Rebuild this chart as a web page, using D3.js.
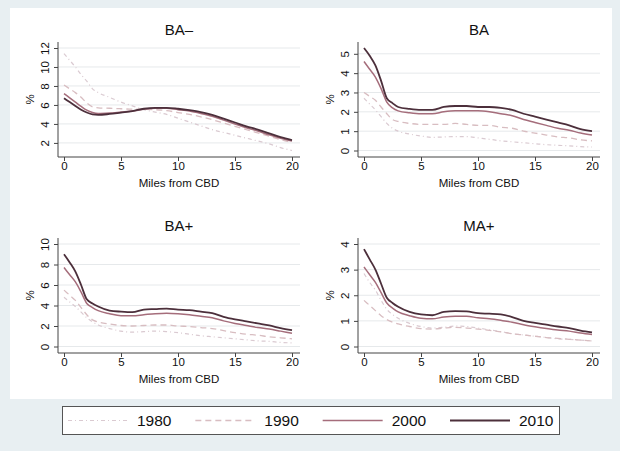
<!DOCTYPE html>
<meta charset="utf-8">
<style>
body{ margin:0; }
text{ font-family:"Liberation Sans",Arial,Helvetica,sans-serif; fill:#111; }
.tick line{ stroke:#444; }
.title{ font-size:15px; text-anchor:middle; }
.axlab{ font-size:11.5px; text-anchor:middle; }
.tick text{ font-size:11.5px; }
.legend text{ font-size:15.5px; }
</style>
<body>
<script src="https://cdnjs.cloudflare.com/ajax/libs/d3/7.8.5/d3.min.js"></script>
<script>

// miles from CBD, shared by every series
var distance = [0,0.5,1,1.5,2,2.5,3,4,5,6,7,8,9,10,11,12,13,14,15,16,17,18,19,20];
var years = ["1980","1990","2000","2010"];

// one array per year, order as in years
var baMinus = [
 [11.4,10.7,10.0,9.2,8.5,7.7,7.3,6.8,6.3,5.9,5.5,5.25,5.0,4.6,4.2,3.8,3.4,3.1,2.8,2.5,2.2,1.9,1.5,1.2],
 [8.1,7.7,7.3,6.8,6.2,5.8,5.7,5.65,5.6,5.55,5.55,5.5,5.4,5.2,5.0,4.75,4.45,4.1,3.75,3.4,3.05,2.7,2.35,2.05],
 [7.2,6.75,6.3,5.85,5.45,5.2,5.1,5.15,5.25,5.35,5.55,5.65,5.65,5.5,5.35,5.1,4.8,4.4,4.0,3.6,3.25,2.85,2.5,2.2],
 [6.7,6.3,5.9,5.5,5.2,5.0,4.95,5.05,5.2,5.35,5.6,5.7,5.7,5.6,5.45,5.25,4.95,4.55,4.15,3.75,3.4,3.0,2.6,2.3]
];
var ba = [
 [2.7,2.4,2.1,1.75,1.4,1.15,1.0,0.85,0.75,0.68,0.7,0.72,0.72,0.65,0.58,0.5,0.45,0.4,0.35,0.3,0.27,0.24,0.2,0.18],
 [3.0,2.8,2.6,2.25,1.9,1.6,1.5,1.4,1.35,1.35,1.35,1.4,1.35,1.3,1.3,1.2,1.15,1.0,0.9,0.8,0.7,0.65,0.55,0.5],
 [4.6,4.2,3.8,3.2,2.5,2.2,2.05,1.95,1.9,1.9,2.0,2.05,2.05,2.05,2.0,1.9,1.8,1.6,1.45,1.3,1.15,1.05,0.9,0.8],
 [5.3,4.9,4.4,3.6,2.7,2.45,2.25,2.15,2.1,2.1,2.25,2.3,2.3,2.25,2.25,2.2,2.1,1.9,1.75,1.6,1.45,1.3,1.1,1.0]
];
var baPlus = [
 [4.8,4.35,3.9,3.35,2.8,2.4,2.1,1.75,1.5,1.4,1.45,1.5,1.45,1.35,1.2,1.05,0.95,0.85,0.75,0.65,0.55,0.5,0.4,0.35],
 [5.5,5.0,4.5,3.8,3.1,2.6,2.4,2.2,2.05,2.0,2.05,2.1,2.1,2.0,1.95,1.85,1.75,1.55,1.35,1.2,1.1,0.95,0.85,0.75],
 [7.7,7.0,6.3,5.3,4.2,3.8,3.5,3.2,3.0,3.0,3.1,3.2,3.25,3.2,3.1,2.95,2.8,2.5,2.25,2.05,1.85,1.7,1.5,1.3],
 [9.0,8.2,7.3,6.0,4.6,4.2,3.9,3.5,3.4,3.35,3.6,3.65,3.7,3.6,3.55,3.4,3.25,2.9,2.65,2.45,2.25,2.05,1.8,1.6]
];
var maPlus = [
 [2.85,2.5,2.2,1.8,1.45,1.25,1.1,0.9,0.78,0.72,0.75,0.8,0.78,0.72,0.65,0.58,0.5,0.45,0.4,0.35,0.3,0.28,0.25,0.22],
 [1.8,1.6,1.4,1.2,1.05,0.95,0.88,0.78,0.7,0.68,0.72,0.75,0.72,0.68,0.63,0.57,0.5,0.45,0.4,0.35,0.32,0.28,0.25,0.22],
 [3.1,2.8,2.5,2.1,1.7,1.5,1.35,1.2,1.1,1.08,1.15,1.18,1.18,1.12,1.08,1.02,0.95,0.85,0.77,0.7,0.64,0.6,0.53,0.47],
 [3.8,3.4,3.0,2.45,1.9,1.7,1.55,1.35,1.25,1.22,1.35,1.38,1.37,1.3,1.28,1.25,1.15,1.0,0.92,0.85,0.78,0.72,0.62,0.55]
];

var titles = ["BA\u2013","BA","BA+","MA+"];
var series = [baMinus, ba, baPlus, maPlus];
var yTicks = [[2,4,6,8,10,12],[0,1,2,3,4,5],[0,2,4,6,8,10],[0,1,2,3,4]];
var xTicks = [0,5,10,15,20];

var colors = ["#dacad1","#d8bdc1","#a56d7b","#4c2f3b"];
var dashes = ["4,3,1,3","6,4",null,null];
var widths = [1.2,1.3,1.5,1.8];

var svg = d3.select("body").append("svg").attr("width",620).attr("height",451);
svg.append("rect").attr("width",620).attr("height",451).attr("fill","#e8eff2");
svg.append("rect").attr("x",10).attr("y",8).attr("width",602).attr("height",391).attr("fill","#fff");

var offsets = [[0,0],[300,0],[0,196],[300,196]];

series.forEach(function(s,i){
	var g = svg.append("g").attr("transform","translate("+offsets[i][0]+","+offsets[i][1]+")");

	var x = d3.scaleLinear().domain([0,20]).range([64,292]);
	var y = d3.scaleLinear().domain(d3.extent(yTicks[i].concat(d3.merge(s)))).range([150.5,48]);

	g.selectAll(".grid").data(yTicks[i]).enter().append("line")
		.attr("x1",58).attr("x2",300)
		.attr("y1",d=>y(d)).attr("y2",d=>y(d))
		.attr("stroke","#e6e9eb");

	var ya = g.append("g").attr("transform","translate(58,0)")
		.call(d3.axisLeft(y).tickValues(yTicks[i]).tickSize(4).tickFormat(d3.format("d")));
	ya.select(".domain").remove();
	ya.selectAll(".tick text").attr("x",0).attr("dy",0)
		.attr("transform","translate(-9,0) rotate(-90)").attr("text-anchor","middle");

	var xa = g.append("g").attr("transform","translate(0,157)")
		.call(d3.axisBottom(x).tickValues(xTicks).tickSize(4));
	xa.select(".domain").remove();
	xa.selectAll(".tick text").attr("y",5);

	g.append("line").attr("x1",58).attr("x2",58).attr("y1",42).attr("y2",157).attr("stroke","#444");
	g.append("line").attr("x1",58).attr("x2",300).attr("y1",157).attr("y2",157).attr("stroke","#444");

	var line = d3.line().x((d,j)=>x(distance[j])).y(d=>y(d)).curve(d3.curveMonotoneX);
	g.selectAll(".series").data(s).enter().append("path")
		.attr("d",line)
		.attr("fill","none")
		.attr("stroke",(d,k)=>colors[k])
		.attr("stroke-width",(d,k)=>widths[k])
		.attr("stroke-dasharray",(d,k)=>dashes[k]);

	g.append("text").attr("class","title").attr("x",179).attr("y",34.5).text(titles[i]);
	g.append("text").attr("class","axlab").attr("x",179).attr("y",187).text("Miles from CBD");
	g.append("text").attr("class","axlab").attr("transform","translate(34,99.5) rotate(-90)").text("%");
});

// legend
var lg = svg.append("g").attr("class","legend");
lg.append("rect").attr("x",62.5).attr("y",406.5).attr("width",497).attr("height",28)
	.attr("fill","#fff").attr("stroke","#555");
var lx = d3.scaleLinear().domain([0,3]).range([68,450]);
years.forEach(function(yr,k){
	lg.append("line").attr("x1",lx(k)).attr("x2",lx(k)+60).attr("y1",420.5).attr("y2",420.5)
		.attr("stroke",colors[k]).attr("stroke-width",widths[k]).attr("stroke-dasharray",dashes[k]);
	lg.append("text").attr("x",lx(k)+69).attr("y",426).text(yr);
});
</script>
</body>
